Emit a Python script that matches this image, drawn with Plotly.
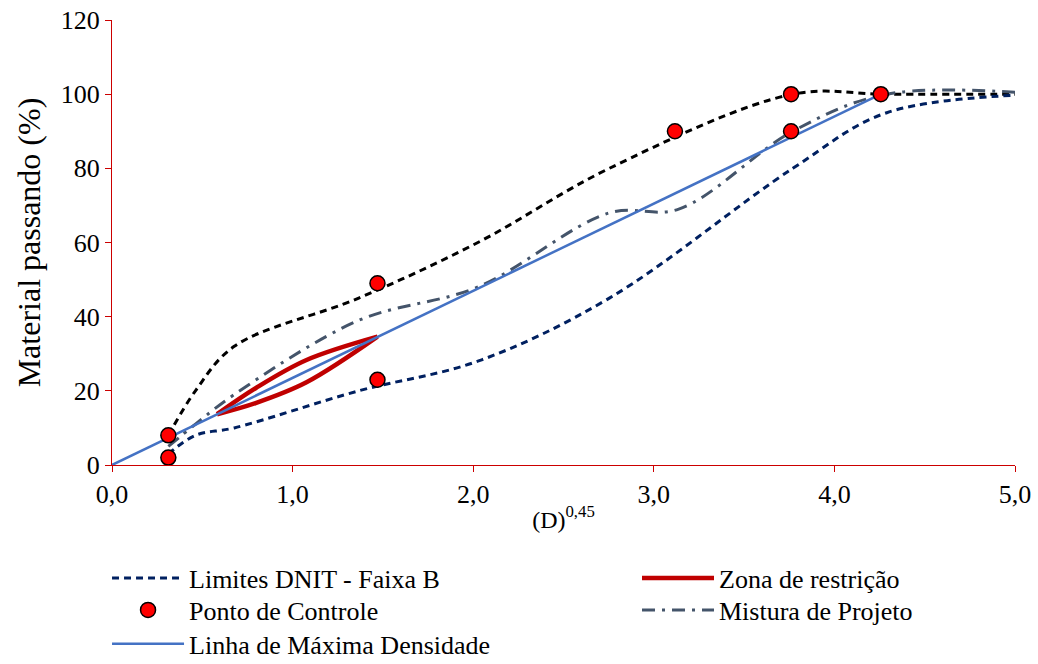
import plotly.graph_objects as go

# Data (x = D^0.45, y = % passing)
sieve_x = [0.312, 0.462, 0.677, 1.366, 2.026, 2.754, 3.770, 4.290, 5.145]
lim_inf = [3, 8, 10, 20, 28, 45, 80, 95, 100]
lim_sup = [8, 20, 32, 45, 60, 80, 100, 100, 100]

mix_x = [0.312, 0.462, 0.677, 1.366, 2.026, 2.754, 3.138, 3.770, 4.290, 5.145]
mix_y = [5, 11, 19, 39, 48, 68, 69, 90, 100, 100]

zr_x = [0.582, 0.795, 1.077, 1.470]
zr_sup = [13.7, 20.7, 28.3, 34.6]
zr_inf = [13.7, 16.7, 22.3, 34.6]

pc_x = [0.312, 0.312, 1.470, 1.470, 3.117, 3.760, 3.760, 4.257]
pc_y = [2, 8, 23, 49, 90, 90, 100, 100]

lmd_x = [0.0, 4.257]
lmd_y = [0, 100]

FONT = "Liberation Serif"
RED_AX = "#CC0000"

fig = go.Figure()

fig.add_trace(go.Scatter(x=sieve_x, y=lim_sup, mode="lines", line=dict(color="black", width=3, dash="7px,5px"),
                         line_shape="spline", showlegend=False, hoverinfo="skip"))
fig.add_trace(go.Scatter(x=sieve_x, y=lim_inf, mode="lines", name="Limites DNIT - Faixa B",
                         line=dict(color="#002060", width=3, dash="7px,5px"), line_shape="spline",
                         legend="legend"))
fig.add_trace(go.Scatter(x=mix_x, y=mix_y, mode="lines", name="Mistura de Projeto",
                         line=dict(color="#44546A", width=3, dash="13px,7px,3px,7px"), line_shape="spline",
                         legend="legend4"))
fig.add_trace(go.Scatter(x=zr_x, y=zr_sup, mode="lines", name="Zona de restrição", legendgroup="zr",
                         line=dict(color="#C00000", width=4.5), line_shape="spline", legend="legend2"))
fig.add_trace(go.Scatter(x=zr_x, y=zr_inf, mode="lines", legendgroup="zr", showlegend=False,
                         line=dict(color="#C00000", width=4.5), line_shape="spline", legend="legend2"))
fig.add_trace(go.Scatter(x=lmd_x, y=lmd_y, mode="lines", name="Linha de Máxima Densidade",
                         line=dict(color="#4472C4", width=2.5), legend="legend5"))
fig.add_trace(go.Scatter(x=pc_x, y=pc_y, mode="markers", name="Ponto de Controle",
                         marker=dict(color="#FF0000", size=15, line=dict(color="black", width=1.5)),
                         legend="legend3"))

leg_common = dict(orientation="v", yanchor="middle", xanchor="left",
                  font=dict(family=FONT, size=26, color="black"), itemwidth=72,
                  tracegroupgap=0, bgcolor="rgba(0,0,0,0)")
XL, XR = -0.0055, 0.5814
Y1, Y2, Y3 = -0.2539, -0.3258, -0.4018

fig.update_layout(
    width=1038, height=664,
    margin=dict(l=112, r=23, t=20, b=199, autoexpand=False),
    paper_bgcolor="white", plot_bgcolor="white",
    font=dict(family=FONT, size=26, color="black"),
    separators=",.",
    showlegend=True,
    legend=dict(x=XL, y=Y1, **leg_common),
    legend2=dict(x=XR, y=Y1, **leg_common),
    legend3=dict(x=XL, y=Y2, **leg_common),
    legend4=dict(x=XR, y=Y2, **leg_common),
    legend5=dict(x=XL, y=Y3, **leg_common),
)
fig.update_xaxes(range=[0, 5], dtick=1, tickformat=".1f", showline=True, linecolor=RED_AX, linewidth=1,
                 ticks="outside", tickcolor=RED_AX, ticklen=6, showgrid=False, zeroline=False,
                 tickfont=dict(family=FONT, size=26), ticklabeloverflow="allow",
                 title=dict(text="(D)<sup>0,45</sup>", font=dict(family=FONT, size=24), standoff=2))
fig.update_yaxes(range=[0, 120], dtick=20, showline=True, linecolor=RED_AX, linewidth=1,
                 ticks="outside", tickcolor=RED_AX, ticklen=6, showgrid=False, zeroline=False,
                 tickfont=dict(family=FONT, size=26), ticklabeloverflow="allow",
                 title=dict(text="Material passando (%)", font=dict(family=FONT, size=32), standoff=10))

fig.write_html("out.html", config={"displayModeBar": False},
               post_script="document.body.style.margin='0px';")
